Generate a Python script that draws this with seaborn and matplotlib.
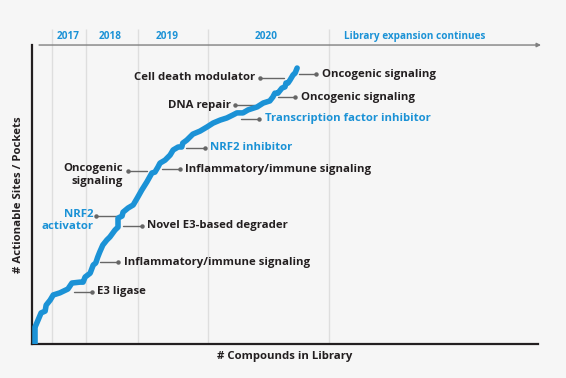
import matplotlib
matplotlib.use("Agg")
import matplotlib.pyplot as plt
import seaborn as sns
import pandas as pd

# library growth curve (x = compounds, y = actionable sites), both as % of axis range
compounds = [0.6, 0.6, 0.8, 1.2, 1.8, 2.6, 2.8, 3.6, 4.2, 5.5, 7.1, 7.9, 9.5, 10.1,
             10.5, 11.5, 12.1, 12.6, 13.0, 13.4, 14.0, 14.8, 15.4, 16.4, 17.0, 17.0,
             17.8, 18.0, 19.0, 20.0, 20.8, 21.7, 22.7, 23.7, 24.3, 24.9, 25.3, 26.3,
             27.3, 27.9, 28.9, 29.6, 29.8, 30.6, 31.8, 33.2, 34.6, 35.8, 37.2, 38.5,
             39.7, 40.5, 41.7, 42.7, 44.5, 45.7, 47.0, 47.6, 48.0, 48.6, 49.4, 50.0,
             50.2, 50.6, 51.0, 51.6, 52.0, 52.4]
sites = [0.0, 5.7, 6.4, 8.0, 10.4, 11.0, 13.0, 14.7, 16.4, 17.1, 18.4, 20.4, 20.7, 20.7,
         22.4, 23.7, 26.4, 27.1, 29.1, 30.8, 33.1, 34.8, 35.8, 38.1, 39.1, 42.1,
         42.8, 44.1, 45.5, 46.5, 48.8, 51.5, 54.2, 57.2, 57.5, 59.2, 60.5, 61.5,
         63.2, 64.9, 65.9, 65.9, 67.2, 68.2, 70.2, 71.2, 72.6, 73.9, 74.9, 75.6,
         76.6, 77.3, 77.3, 78.3, 79.3, 80.6, 81.3, 82.6, 83.9, 83.9, 85.6, 86.0,
         87.3, 87.3, 88.3, 90.0, 90.6, 92.3]

periods = ["2017", "2018", "2019", "2020", "Library expansion continues"]
period_centers = [7.1, 15.4, 26.7, 46.2, 75.7]
period_bounds = [4.0, 10.7, 21.0, 34.8, 58.7]

notes = ["Oncogenic signaling", "Cell death modulator", "Oncogenic signaling",
         "DNA repair", "Transcription factor inhibitor", "NRF2 inhibitor",
         "Inflammatory/immune signaling", "Oncogenic\nsignaling", "NRF2\nactivator",
         "Novel E3-based degrader", "Inflammatory/immune signaling", "E3 ligase"]
highlight = [False, False, False, False, True, True, False, False, True, False, False, False]

# (text x, text y, line start, line end, side) per note
note_layout = [
    (57.4, 90.3, 52.8, 56.1, "right"),
    (44.1, 89.0, 49.8, 45.1, "left"),
    (53.2, 82.6, 48.6, 52.0, "right"),
    (39.3, 79.9, 43.9, 40.1, "left"),
    (46.0, 75.3, 41.3, 44.9, "right"),
    (35.2, 65.6, 30.4, 34.2, "right"),
    (30.2, 58.5, 25.7, 29.2, "right"),
    (18.0, 57.9, 22.7, 19.0, "left"),
    (12.1, 42.8, 16.8, 12.6, "left"),
    (22.7, 39.5, 18.0, 21.7, "right"),
    (18.2, 27.4, 13.4, 17.0, "right"),
    (12.8, 17.4, 8.3, 11.9, "right"),
]

blue = "#1b92d6"
dark = "#231f20"
bg = "#f6f6f6"
fs = 8.2

sns.set_theme(style="white")
plt.rcParams["font.family"] = ["Open Sans", "DejaVu Sans"]

fig = plt.figure(figsize=(5.66, 3.78), dpi=100, facecolor=bg)
ax = fig.add_axes([0.0565, 0.0899, 0.894, 0.791])
ax.set_facecolor(bg)

df = pd.DataFrame({"compounds": compounds, "sites": sites})
sns.lineplot(data=df, x="compounds", y="sites", sort=False, estimator=None,
             color=blue, linewidth=4.0, solid_capstyle="round", zorder=3, ax=ax)

ax.set_xlim(0, 100)
ax.set_ylim(0, 100)
ax.set_xticks([])
ax.set_yticks([])
for s in ["top", "right"]:
    ax.spines[s].set_visible(False)
for s in ["left", "bottom"]:
    ax.spines[s].set_color(dark)
    ax.spines[s].set_linewidth(1.6)

# year separators and timeline arrow
ax.vlines(period_bounds, 0, 105.4, colors="#dedede", linewidth=1, clip_on=False, zorder=0)
ax.annotate("", xy=(100.6, 100), xytext=(1.4, 100), annotation_clip=False,
            arrowprops=dict(arrowstyle="-|>", color="#808080", lw=1, mutation_scale=6,
                            shrinkA=0, shrinkB=0))
for label, xc in zip(periods, period_centers):
    ax.text(xc, 102.8, label, ha="center", va="center", color=blue,
            fontsize=7.2, fontweight="bold", clip_on=False)

# callouts
for text, hl, (tx, ty, x0, x1, side) in zip(notes, highlight, note_layout):
    color = blue if hl else dark
    ax.plot([x0, x1], [ty, ty], color="#666666", lw=1, zorder=2)
    ax.plot([x1], [ty], "o", color="#666666", ms=2.2, zorder=2)
    if "\n" in text:
        ax.text(tx, ty + 2.5, text, ha="right", va="top", multialignment="right",
                color=color, fontsize=fs, fontweight="bold", linespacing=1.2)
    else:
        ax.text(tx, ty, text, ha="left" if side == "right" else "right", va="center",
                color=color, fontsize=fs, fontweight="bold")

ax.set_xlabel("# Compounds in Library", fontsize=fs, fontweight="bold", color=dark, labelpad=5)
ax.set_ylabel("# Actionable Sites / Pockets", fontsize=fs, fontweight="bold", color=dark, labelpad=6)

fig.savefig("out.png", dpi=100, facecolor=bg)
